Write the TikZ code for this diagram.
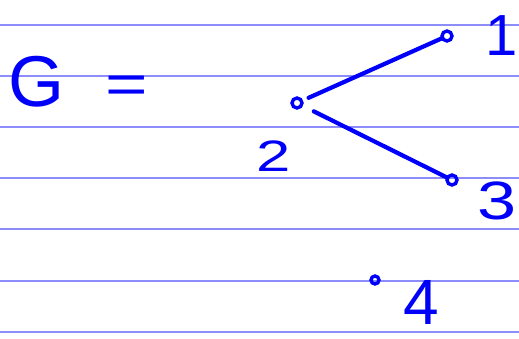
\documentclass[tikz,border=0pt]{standalone}
\usepackage{fontspec}
\setmainfont{Liberation Sans}
\definecolor{bluinchiostro}{RGB}{0,0,250}
\definecolor{rigatura}{RGB}{140,140,250}

\begin{document}
\begin{tikzpicture}[
  x=1pt, y=-1pt,
  riga/.style={draw=rigatura, line width=1.4pt},
  arco/.style={draw=bluinchiostro, line width=4.2pt, line cap=round},
  vertice/.style={circle, draw=bluinchiostro, line width=3.4pt, inner sep=0pt, minimum size=10pt},
  etichetta/.style={text=bluinchiostro, inner sep=0pt}
]
\useasboundingbox (0,0) rectangle (519,338);

%--------------------------------------------------------------
% Rigatura del foglio
%--------------------------------------------------------------
\foreach \y in {25,76,127,178,229,281,332}
  \draw[riga] (0,\y) -- (519,\y);

%--------------------------------------------------------------
% G =
%--------------------------------------------------------------
\node[etichetta, font=\fontsize{72}{72}\selectfont] (nomeG) at (37,82) {G};
\node[etichetta, font=\fontsize{56}{56}\selectfont, xscale=1.3] (uguale) at (127,90) {=};

%--------------------------------------------------------------
% Vertici
%--------------------------------------------------------------
\node[vertice] (v1) at (447,36) {};
\node[vertice] (v2) at (297,103) {};
\node[vertice] (v3) at (452,180) {};
\node[vertice, minimum size=8pt] (v4) at (375,280) {};

%--------------------------------------------------------------
% Etichette dei vertici
%--------------------------------------------------------------
\node[etichetta, font=\fontsize{58}{58}\selectfont] (l1) at (502,36) {1};
\node[etichetta, font=\fontsize{44}{44}\selectfont, xscale=1.4] (l2) at (274,156) {2};
\node[etichetta, font=\fontsize{54}{54}\selectfont, xscale=1.3] (l3) at (497,201) {3};
\node[etichetta, font=\fontsize{64}{64}\selectfont] (l4) at (421,302) {4};

%--------------------------------------------------------------
% Archi
%--------------------------------------------------------------
\draw[arco, shorten <=6pt] (v2) -- (v1);
\draw[arco, shorten <=12pt] (v2) -- (v3);

\end{tikzpicture}
\end{document}
